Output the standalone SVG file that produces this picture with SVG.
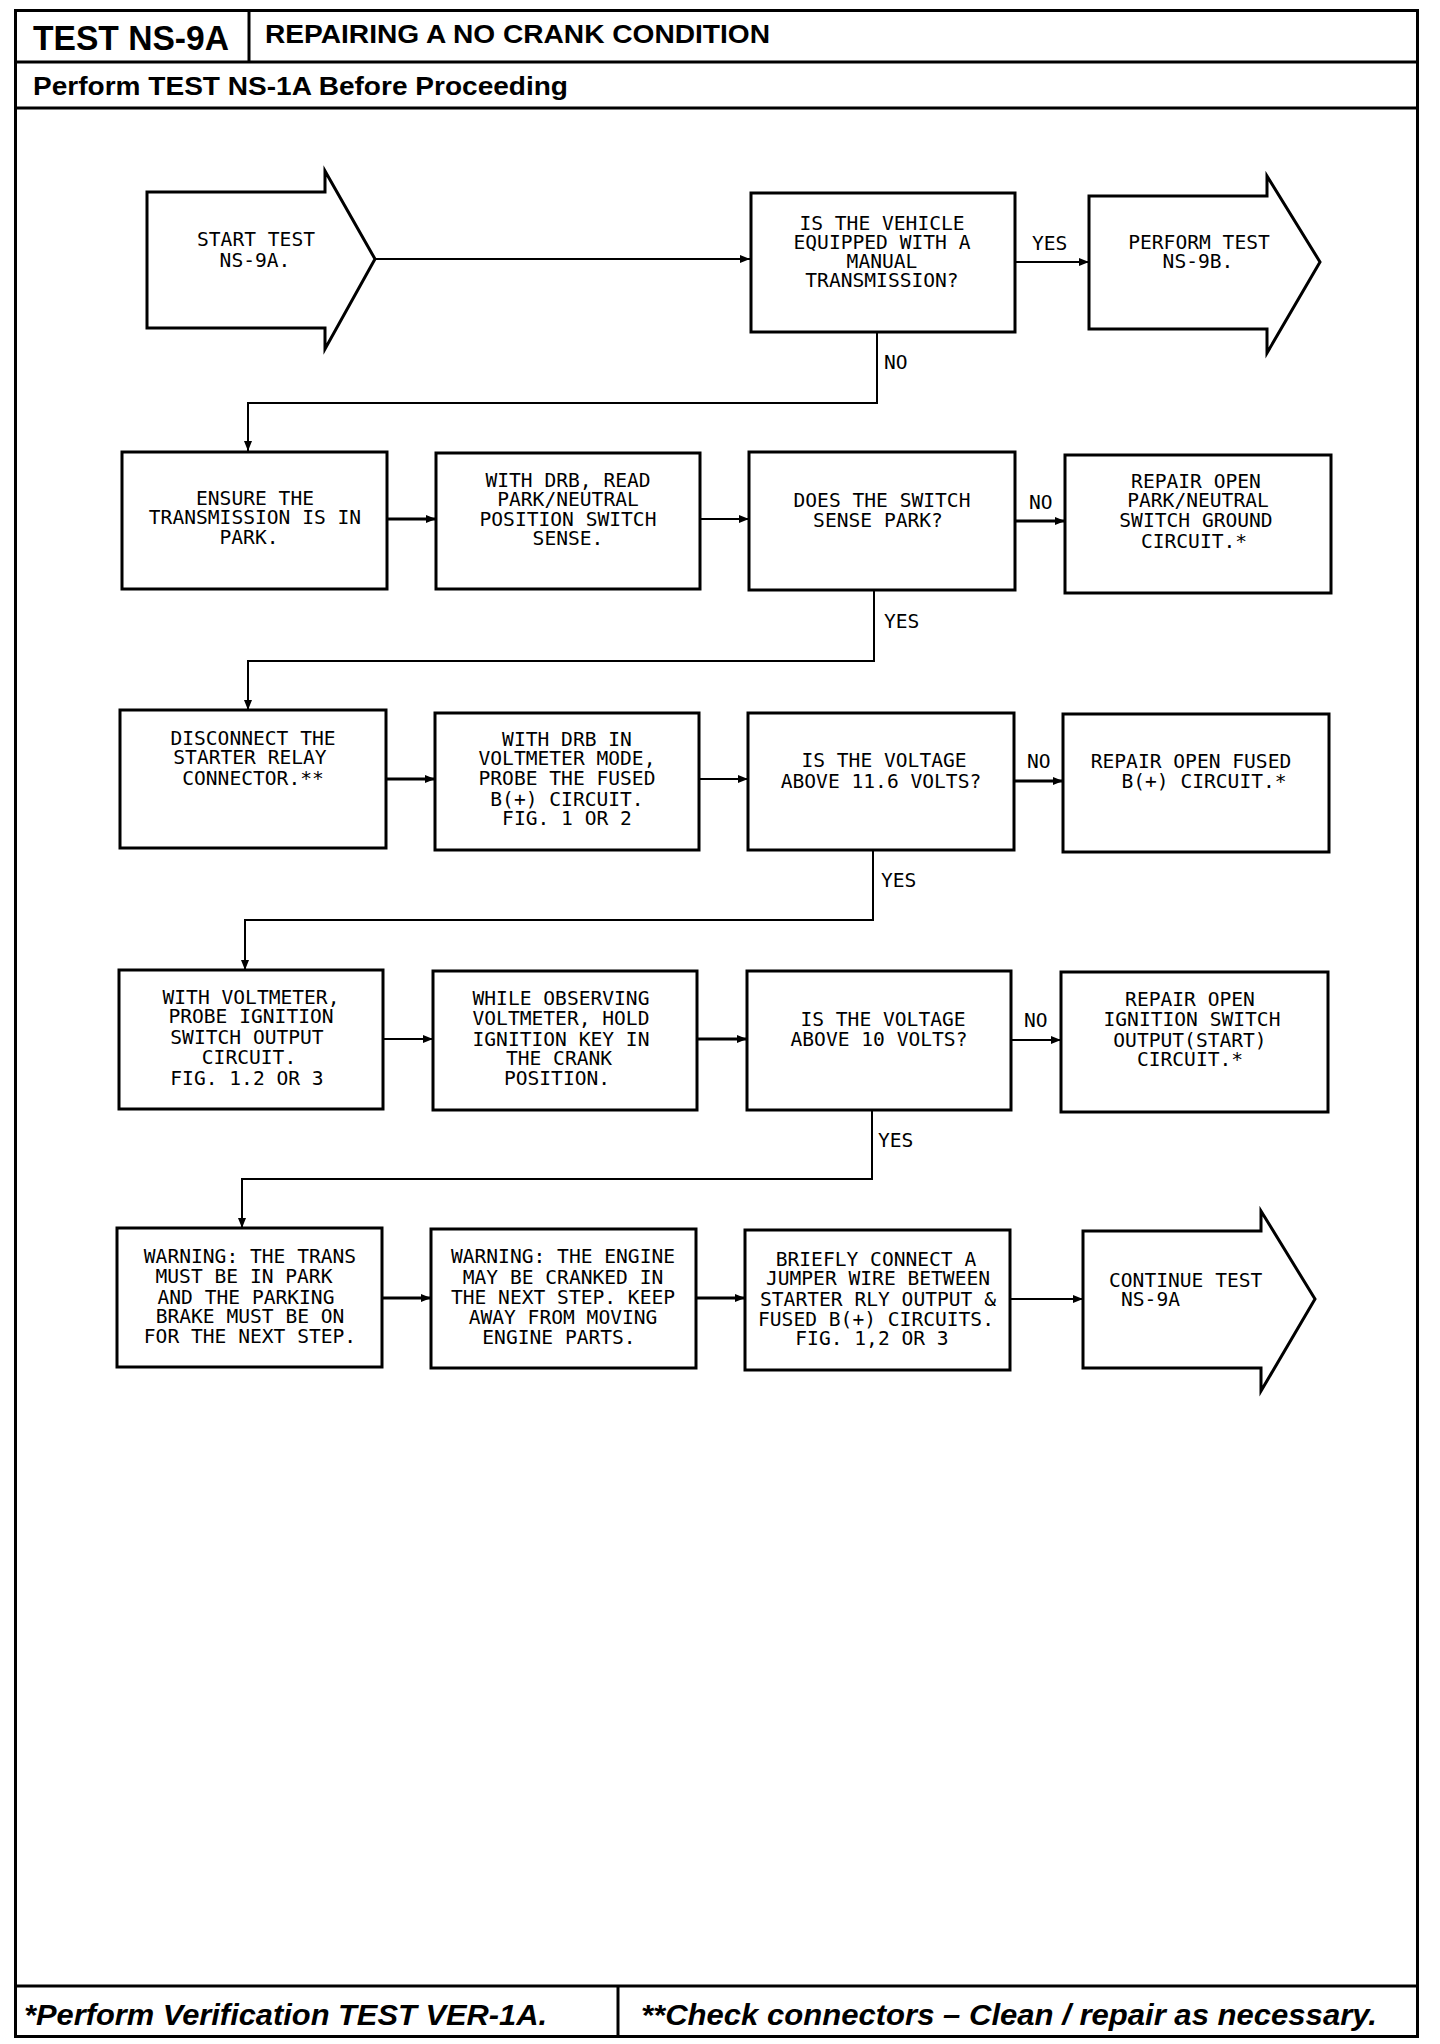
<svg xmlns="http://www.w3.org/2000/svg" width="1440" height="2044" viewBox="0 0 1440 2044">
<style>
.frame{fill:none;stroke:#000;stroke-width:3}
.box{fill:#fff;stroke:#000;stroke-width:3}
.conn{fill:none;stroke:#000;stroke-width:2}
.thick{stroke-width:3}
.t{font-family:"DejaVu Sans Mono","Liberation Mono",monospace;font-size:19.6px;fill:#000;text-anchor:middle}
.l{font-family:"DejaVu Sans Mono","Liberation Mono",monospace;font-size:19.6px;fill:#000}
.h{font-family:"Liberation Sans",Arial,sans-serif;font-weight:bold;fill:#000}
.f{font-family:"Liberation Sans",Arial,sans-serif;font-weight:bold;font-style:italic;fill:#000}
</style>
<defs>
<marker id="ah" viewBox="0 0 10 8" refX="10" refY="4" markerWidth="10" markerHeight="8" markerUnits="userSpaceOnUse" orient="auto"><path d="M0,0 L10,4 L0,8 z" fill="#000"/></marker>
</defs>
<rect width="1440" height="2044" fill="#fff"/>
<g id="frame">
<rect class="frame" x="15.5" y="10.5" width="1402" height="2026"/>
<line class="frame" x1="249" y1="10" x2="249" y2="62"/>
<line class="frame" x1="15" y1="62" x2="1418" y2="62"/>
<line class="frame" x1="15" y1="108" x2="1418" y2="108" stroke-width="4"/>
<line class="frame" x1="15" y1="1986" x2="1418" y2="1986"/>
<line class="frame" x1="618" y1="1986" x2="618" y2="2036"/>
<text class="h" x="33" y="50" font-size="35" textLength="196" lengthAdjust="spacingAndGlyphs">TEST NS-9A</text>
<text class="h" x="265" y="43" font-size="25" textLength="505" lengthAdjust="spacingAndGlyphs">REPAIRING A NO CRANK CONDITION</text>
<text class="h" x="33" y="95" font-size="26" textLength="535" lengthAdjust="spacingAndGlyphs">Perform TEST NS-1A Before Proceeding</text>
<text class="f" x="24" y="2025" font-size="29" textLength="523" lengthAdjust="spacingAndGlyphs">*Perform Verification TEST VER-1A.</text>
<text class="f" x="641" y="2025" font-size="29" textLength="736" lengthAdjust="spacingAndGlyphs">**Check connectors – Clean / repair as necessary.</text>
</g>
<g id="connectors">
<path class="conn" d="M375,259 H750" marker-end="url(#ah)"/>
<path class="conn" d="M1015,262 H1089" marker-end="url(#ah)"/>
<path class="conn" d="M877,332 V403 H248 V451" marker-end="url(#ah)"/>
<path class="conn thick" d="M387,519 H436" marker-end="url(#ah)"/>
<path class="conn" d="M700,519 H749" marker-end="url(#ah)"/>
<path class="conn thick" d="M1015,521 H1065" marker-end="url(#ah)"/>
<path class="conn" d="M874,590 V661 H248 V710" marker-end="url(#ah)"/>
<path class="conn thick" d="M386,779 H435" marker-end="url(#ah)"/>
<path class="conn" d="M699,779 H748" marker-end="url(#ah)"/>
<path class="conn thick" d="M1014,781 H1063" marker-end="url(#ah)"/>
<path class="conn" d="M873,850 V920 H245 V970" marker-end="url(#ah)"/>
<path class="conn" d="M383,1039 H433" marker-end="url(#ah)"/>
<path class="conn thick" d="M697,1039 H747" marker-end="url(#ah)"/>
<path class="conn" d="M1011,1040 H1061" marker-end="url(#ah)"/>
<path class="conn" d="M872,1110 V1179 H242 V1228" marker-end="url(#ah)"/>
<path class="conn thick" d="M382,1298 H431" marker-end="url(#ah)"/>
<path class="conn thick" d="M696,1298 H745" marker-end="url(#ah)"/>
<path class="conn" d="M1010,1299 H1083" marker-end="url(#ah)"/>
<text class="l" x="1032" y="250">YES</text>
<text class="l" x="884" y="369">NO</text>
<text class="l" x="1029" y="509">NO</text>
<text class="l" x="884" y="628">YES</text>
<text class="l" x="1027" y="768">NO</text>
<text class="l" x="881" y="887">YES</text>
<text class="l" x="1024" y="1027">NO</text>
<text class="l" x="878" y="1147">YES</text>
</g>
<g id="start">
<polygon class="box" points="147,192 325,192 325,171 375,259 325,349 325,328 147,328"/>
<text class="t" x="256" y="246">START TEST</text>
<text class="t" x="255" y="267">NS-9A.</text>
</g>
<g id="q-manual">
<rect class="box" x="751" y="193" width="264" height="139"/>
<text class="t" x="882" y="230">IS THE VEHICLE</text>
<text class="t" x="882" y="249">EQUIPPED WITH A</text>
<text class="t" x="882" y="268">MANUAL</text>
<text class="t" x="882" y="287">TRANSMISSION?</text>
</g>
<g id="perform-9b">
<polygon class="box" points="1089,196 1267,196 1267,176 1320,262 1267,353 1267,329 1089,329"/>
<text class="t" x="1199" y="249">PERFORM TEST</text>
<text class="t" x="1198" y="268">NS-9B.</text>
</g>
<g id="ensure-park">
<rect class="box" x="122" y="452" width="265" height="137"/>
<text class="t" x="255" y="505">ENSURE THE</text>
<text class="t" x="255" y="524">TRANSMISSION IS IN</text>
<text class="t" x="249" y="544">PARK.</text>
</g>
<g id="read-pn">
<rect class="box" x="436" y="453" width="264" height="136"/>
<text class="t" x="568" y="487">WITH DRB, READ</text>
<text class="t" x="568" y="506">PARK/NEUTRAL</text>
<text class="t" x="568" y="526">POSITION SWITCH</text>
<text class="t" x="568" y="545">SENSE.</text>
</g>
<g id="q-sense-park">
<rect class="box" x="749" y="452" width="266" height="138"/>
<text class="t" x="882" y="507">DOES THE SWITCH</text>
<text class="t" x="878" y="527">SENSE PARK?</text>
</g>
<g id="repair-pn-ground">
<rect class="box" x="1065" y="455" width="266" height="138"/>
<text class="t" x="1196" y="488">REPAIR OPEN</text>
<text class="t" x="1198" y="507">PARK/NEUTRAL</text>
<text class="t" x="1196" y="527">SWITCH GROUND</text>
<text class="t" x="1194" y="548">CIRCUIT.*</text>
</g>
<g id="disconnect-relay">
<rect class="box" x="120" y="710" width="266" height="138"/>
<text class="t" x="253" y="745">DISCONNECT THE</text>
<text class="t" x="250" y="764">STARTER RELAY</text>
<text class="t" x="253" y="785">CONNECTOR.**</text>
</g>
<g id="probe-fused">
<rect class="box" x="435" y="713" width="264" height="137"/>
<text class="t" x="567" y="746">WITH DRB IN</text>
<text class="t" x="567" y="765">VOLTMETER MODE,</text>
<text class="t" x="567" y="785">PROBE THE FUSED</text>
<text class="t" x="567" y="806">B(+) CIRCUIT.</text>
<text class="t" x="567" y="825">FIG. 1 OR 2</text>
</g>
<g id="q-11-6">
<rect class="box" x="748" y="713" width="266" height="137"/>
<text class="t" x="884" y="767">IS THE VOLTAGE</text>
<text class="t" x="881" y="788">ABOVE 11.6 VOLTS?</text>
</g>
<g id="repair-fused">
<rect class="box" x="1063" y="714" width="266" height="138"/>
<text class="t" x="1191" y="768">REPAIR OPEN FUSED</text>
<text class="t" x="1204" y="788">B(+) CIRCUIT.*</text>
</g>
<g id="probe-ignition">
<rect class="box" x="119" y="970" width="264" height="139"/>
<text class="t" x="251" y="1004">WITH VOLTMETER,</text>
<text class="t" x="251" y="1023">PROBE IGNITION</text>
<text class="t" x="247" y="1044">SWITCH OUTPUT</text>
<text class="t" x="249" y="1064">CIRCUIT.</text>
<text class="t" x="247" y="1085">FIG. 1.2 OR 3</text>
</g>
<g id="hold-crank">
<rect class="box" x="433" y="971" width="264" height="139"/>
<text class="t" x="561" y="1005">WHILE OBSERVING</text>
<text class="t" x="561" y="1025">VOLTMETER, HOLD</text>
<text class="t" x="561" y="1046">IGNITION KEY IN</text>
<text class="t" x="559" y="1065">THE CRANK</text>
<text class="t" x="557" y="1085">POSITION.</text>
</g>
<g id="q-10">
<rect class="box" x="747" y="971" width="264" height="139"/>
<text class="t" x="883" y="1026">IS THE VOLTAGE</text>
<text class="t" x="879" y="1046">ABOVE 10 VOLTS?</text>
</g>
<g id="repair-ignition">
<rect class="box" x="1061" y="972" width="267" height="140"/>
<text class="t" x="1190" y="1006">REPAIR OPEN</text>
<text class="t" x="1192" y="1026">IGNITION SWITCH</text>
<text class="t" x="1190" y="1047">OUTPUT(START)</text>
<text class="t" x="1190" y="1066">CIRCUIT.*</text>
</g>
<g id="warn-trans">
<rect class="box" x="117" y="1228" width="265" height="139"/>
<text class="t" x="250" y="1263">WARNING: THE TRANS</text>
<text class="t" x="244" y="1283">MUST BE IN PARK</text>
<text class="t" x="246" y="1304">AND THE PARKING</text>
<text class="t" x="250" y="1323">BRAKE MUST BE ON</text>
<text class="t" x="250" y="1343">FOR THE NEXT STEP.</text>
</g>
<g id="warn-engine">
<rect class="box" x="431" y="1229" width="265" height="139"/>
<text class="t" x="563" y="1263">WARNING: THE ENGINE</text>
<text class="t" x="563" y="1284">MAY BE CRANKED IN</text>
<text class="t" x="563" y="1304">THE NEXT STEP. KEEP</text>
<text class="t" x="563" y="1324">AWAY FROM MOVING</text>
<text class="t" x="559" y="1344">ENGINE PARTS.</text>
</g>
<g id="jumper">
<rect class="box" x="745" y="1230" width="265" height="140"/>
<text class="t" x="876" y="1266">BRIEFLY CONNECT A</text>
<text class="t" x="878" y="1285">JUMPER WIRE BETWEEN</text>
<text class="t" x="878" y="1306">STARTER RLY OUTPUT &amp;</text>
<text class="t" x="876" y="1326">FUSED B(+) CIRCUITS.</text>
<text class="t" x="872" y="1345">FIG. 1,2 OR 3</text>
</g>
<g id="continue">
<polygon class="box" points="1083,1231 1261,1231 1261,1211 1315,1299 1261,1391 1261,1368 1083,1368"/>
<text class="l" x="1109" y="1287">CONTINUE TEST</text>
<text class="l" x="1121" y="1306">NS-9A</text>
</g>
</svg>
